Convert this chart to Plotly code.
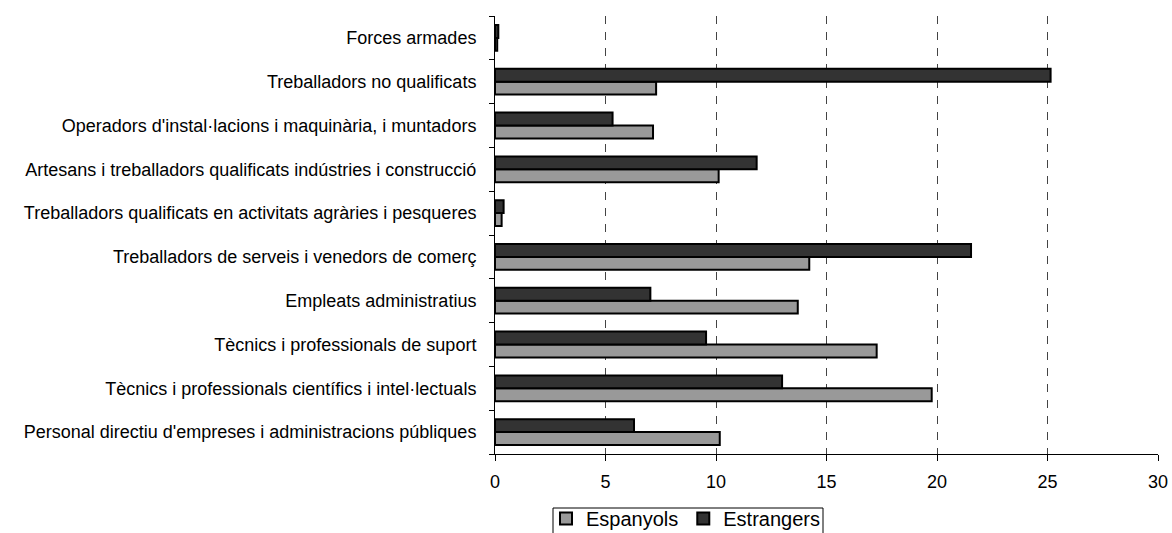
import plotly.graph_objects as go

categories = [
    "Personal directiu d'empreses i administracions públiques",
    "Tècnics i professionals científics i intel·lectuals",
    "Tècnics i professionals de suport",
    "Empleats administratius",
    "Treballadors de serveis i venedors de comerç",
    "Treballadors qualificats en activitats agràries i pesqueres",
    "Artesans i treballadors qualificats indústries i construcció",
    "Operadors d'instal·lacions i maquinària, i muntadors",
    "Treballadors no qualificats",
    "Forces armades",
]
espanyols = [10.17, 19.76, 17.27, 13.70, 14.22, 0.30, 10.12, 7.15, 7.29, 0.10]
estrangers = [6.29, 12.99, 9.55, 7.03, 21.54, 0.39, 11.84, 5.32, 25.14, 0.15]
x_ticks = [0, 5, 10, 15, 20, 25, 30]

font = "Liberation Sans, Arial, sans-serif"
W, H = 1172, 533
ML, MR, MT, MB = 495, 14, 16, 79
PW, PH = W - ML - MR, H - MT - MB


def px_to_paper_x(px):
    return (px - ML) / PW


def px_to_paper_y(py):
    return (H - MB - py) / PH


fig = go.Figure()
fig.add_trace(go.Bar(
    y=categories, x=espanyols, orientation="h", name="Espanyols",
    marker=dict(color="#999999", line=dict(color="#000000", width=2)),
))
fig.add_trace(go.Bar(
    y=categories, x=estrangers, orientation="h", name="Estrangers",
    marker=dict(color="#333333", line=dict(color="#000000", width=2)),
))

# legend frame (cut by the bottom edge like in the reference)
fig.add_shape(
    type="rect", xref="paper", yref="paper",
    x0=px_to_paper_x(553), x1=px_to_paper_x(823),
    y0=px_to_paper_y(548), y1=px_to_paper_y(508),
    line=dict(color="#000000", width=1), fillcolor="rgba(0,0,0,0)",
    layer="above",
)

fig.update_layout(
    width=W, height=H,
    margin=dict(l=ML, r=MR, t=MT, b=MB, autoexpand=False),
    paper_bgcolor="white", plot_bgcolor="white",
    barmode="group", bargap=0.41, bargroupgap=0,
    font=dict(family=font, size=18, color="#000000"),
    legend=dict(
        orientation="h", xref="container", yref="container",
        x=546 / W, xanchor="left", y=(H - 499) / H, yanchor="top",
        borderwidth=0, bgcolor="rgba(0,0,0,0)", font=dict(size=20),
        itemwidth=30, tracegroupgap=0,
    ),
    xaxis=dict(
        range=[0, 30], tickvals=x_ticks, ticktext=[str(v) for v in x_ticks],
        showgrid=True, gridcolor="#444444", griddash="8px,8px", gridwidth=1,
        zeroline=False, showline=True, linecolor="#000000", linewidth=1,
        ticks="outside", ticklen=6, tickcolor="#000000",
        tickfont=dict(size=18), ticklabelstandoff=5,
        automargin=False, fixedrange=True,
    ),
    yaxis=dict(
        type="category", categoryorder="array", categoryarray=categories,
        showline=True, linecolor="#000000", linewidth=1,
        ticks="outside", tickson="boundaries", ticklen=5, tickcolor="#000000",
        showgrid=False, tickfont=dict(size=18), ticklabelstandoff=14,
        automargin=False, fixedrange=True,
    ),
)

fig.write_html(
    "out.html",
    config={"displayModeBar": False, "staticPlot": True},
    post_script="document.body.style.margin='0';document.body.style.overflow='hidden';",
)
